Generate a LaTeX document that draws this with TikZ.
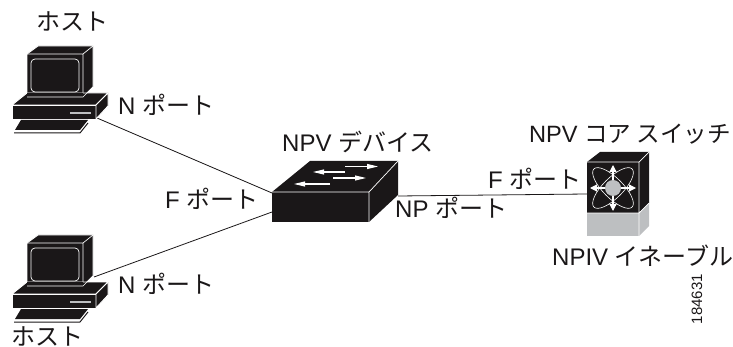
\documentclass[tikz,border=0pt]{standalone}
\usepackage{fontspec}
\setmainfont{Liberation Sans}
\newfontfamily\cjk{Noto Sans CJK JP}
\usetikzlibrary{arrows.meta}
\definecolor{ink}{HTML}{1A1718}
\definecolor{coregray}{HTML}{BDBFC1}
\tikzset{
  lbl/.style={inner sep=0pt,anchor=west,font=\fontsize{24}{27}\selectfont,text=ink},
  wire/.style={draw=ink,line width=0.8pt},
  solid3d/.style={fill=ink,draw=white,line width=0.9pt,line join=round},
  whitearrow/.style={draw=white,line width=1.1pt,-{Triangle[width=5pt,length=11pt]}},
  corearrow/.style={draw=white,line width=1.2pt,{Triangle[width=7pt,length=7pt]}-{Triangle[width=7pt,length=7pt]}},
  computer/.pic={
    \draw[solid3d] (27,54)--(38,46)--(93,46)--(93,87)--(83,97)--(27,97)--cycle;
    \draw[draw=white,line width=0.7pt] (27,54)--(83,54)--(93,46) (83,54)--(83,97);
    \draw[draw=white,line width=0.7pt,rounded corners=4pt] (31,59) rectangle (79,92);
    \draw[solid3d] (12,105)--(27,93)--(108,93)--(96,105)--cycle;
    \fill[ink] (27,93)--(83,93)--(83,99)--(27,99)--cycle;
    \draw[draw=white,line width=0.7pt] (27,97)--(83,97)--(93,87);
    \draw[solid3d] (12,105) rectangle (96,119);
    \draw[solid3d] (96,105)--(108,93)--(108,106)--(96,119)--cycle;
    \draw[draw=coregray,line width=1.6pt] (70,113)--(91,113);
    \fill[ink] (21,120)--(88,120)--(80,130)--(15,130)--cycle;
    \draw[draw=ink,line width=1pt] (14,133)--(80,133)--(88,123);
  }
}
\begin{document}
\begin{tikzpicture}[x=1pt,y=-1pt]
\useasboundingbox (0,0) rectangle (733,347);
% anchors
\coordinate (hostA) at (97,118);
\coordinate (hostB) at (94,277);
\coordinate (swA) at (272,193);
\coordinate (swB) at (272,212);
\coordinate (swC) at (398,196);
\coordinate (coreL) at (587,194);
\draw[wire] (hostA)--(swA);
\draw[wire] (hostB)--(swB);
\draw[wire] (swC)--(coreL);
\pic at (0,0) {computer};
\pic at (0,189) {computer};
% NPV switch
\fill[ink] (272,192)--(310,161)--(398,161)--(369,192)--cycle;
\fill[ink] (272,192) rectangle (369,222);
\fill[ink] (369,192)--(398,161)--(398,195)--(369,222)--cycle;
\draw[white,line width=0.7pt] (272,192)--(369,192)--(398,161) (369,192)--(369,222);
\draw[whitearrow] (345,166.5)--(378,166.5) ;
\draw[whitearrow] (345,172)--(313,172);
\draw[whitearrow] (333,178)--(366,178);
\draw[whitearrow] (330,184)--(294,184);
% core switch
\fill[ink] (587,162)--(600,152)--(649,152)--(639,162)--cycle;
\fill[ink] (587,162) rectangle (639,213);
\fill[ink] (639,162)--(649,152)--(649,203)--(639,213)--cycle;
\fill[coregray] (587,213) rectangle (639,236);
\fill[coregray] (639,213)--(649,203)--(649,226)--(639,236)--cycle;
\draw[white,line width=0.7pt] (587,162)--(639,162)--(649,152) (639,162)--(639,236) (587,213)--(639,213)--(649,203);
\draw[white,line width=0.6pt,rotate around={45:(613,188)}] (613,188) ellipse (27pt and 10pt);
\draw[white,line width=0.6pt,rotate around={-45:(613,188)}] (613,188) ellipse (27pt and 10pt);
\draw[corearrow] (590,188)--(636,188);
\draw[corearrow] (613,165)--(613,211);
\fill[coregray] (613,188) circle (8);
% labels
\node[lbl] at (36,21) {\cjk ホスト};
\node[lbl] at (118,105) {N {\cjk ポート}};
\node[lbl] at (282,142) {NPV {\cjk デバイス}};
\node[lbl] at (165,199) {F {\cjk ポート}};
\node[lbl] at (395,208) {NP {\cjk ポート}};
\node[lbl] at (488,179) {F {\cjk ポート}};
\node[lbl,font=\fontsize{23.6}{27}\selectfont] at (529,134) {NPV {\cjk コア スイッチ}};
\node[lbl] at (552,256) {NPIV {\cjk イネーブル}};
\node[lbl] at (118,284) {N {\cjk ポート}};
\node[lbl] at (11,336) {\cjk ホスト};
\node[inner sep=0pt,rotate=90,font=\fontsize{15}{16}\selectfont,text=ink] at (697,299) {184631};
\end{tikzpicture}
\end{document}
